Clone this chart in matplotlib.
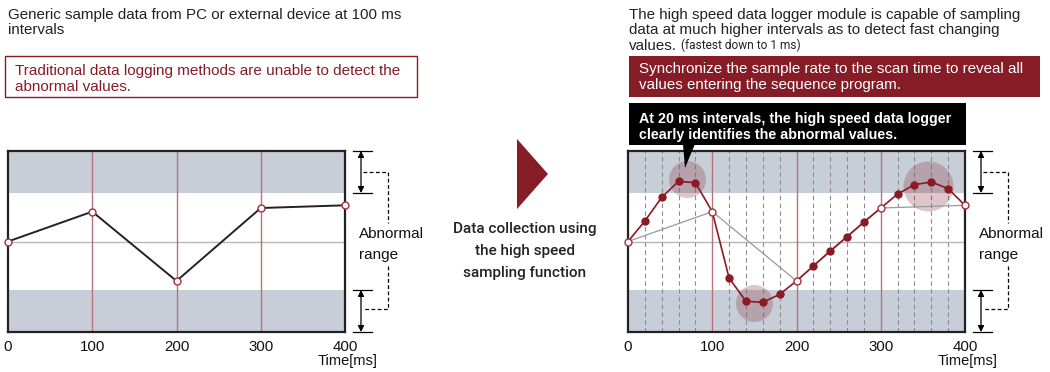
#Traditional 100 ms logging vs. high speed 20 ms logging
import numpy as np
import matplotlib.pyplot as plt
from matplotlib.patches import Rectangle, Polygon

plt.rcParams['font.family'] = ['Liberation Sans', 'DejaVu Sans']

# samples every 100 ms (traditional logging)
t_slow = [0, 100, 200, 300, 400]
v_slow = [50, 66.5, 28.2, 68.5, 70]

# samples every 20 ms (high speed data logger)
t_fast = [0, 20, 40, 60, 80, 100, 120, 140, 160, 180, 200,
          220, 240, 260, 280, 300, 320, 340, 360, 380, 400]
v_fast = [50, 61.3, 74.4, 83.2, 82.5, 66.5, 29.8, 17.0, 16.4, 20.8, 28.2,
          36.5, 44.8, 52.7, 60.8, 68.5, 76.2, 81.4, 82.9, 79.2, 70]

band_low = 23.3
band_high = 76.7
x_ticks = [0, 100, 200, 300, 400]

RED = '#861c26'
GRAY_BAND = '#c8ced8'
W, H = 1050, 372

fig = plt.figure(figsize=(W/100, H/100), dpi=100)


def chart_axes(left_px):
    ax = fig.add_axes([left_px/W, 1-332/H, 337/W, 181/H])
    ax.set_xlim(0, 400)
    ax.set_ylim(0, 100)
    ax.axhspan(0, band_low, color=GRAY_BAND, lw=0, zorder=0)
    ax.axhspan(band_high, 100, color=GRAY_BAND, lw=0, zorder=0)
    ax.axhline(50, color='#b8b8b8', lw=1, zorder=1)
    for x in x_ticks[1:-1]:
        ax.axvline(x, color='#b9717a', lw=1, zorder=2)
    ax.set_xticks(x_ticks)
    ax.set_xticklabels([str(x) for x in x_ticks], fontsize=10.8, color='#111')
    ax.tick_params(axis='x', length=0, pad=5.5)
    ax.set_yticks([])
    for s in ax.spines.values():
        s.set_linewidth(1.6)
        s.set_color('#222')
        s.set_zorder(6)
    return ax


# left chart
ax1 = chart_axes(8)
ax1.plot(t_slow, v_slow, color='#222', lw=1.4, zorder=3)
ax1.plot(t_slow, v_slow, 'o', ms=5, mfc='white', mec='#a03040', mew=1,
         clip_on=False, zorder=7)

# right chart
ax2 = chart_axes(628)
for t in t_fast:
    if t not in x_ticks:
        ax2.axvline(t, color='#8c8c8c', lw=0.8, ls=(0, (4, 3)), zorder=1)
ax2.scatter([70.5, 149.6], [84.4, 15.9], s=710, color='#8a3040', alpha=0.28,
            lw=0, zorder=1.5)
ax2.scatter([356], [80.7], s=1296, color='#8a3040', alpha=0.28, lw=0, zorder=1.5)
ax2.plot(t_slow, v_slow, color='#9a9a9a', lw=0.9, zorder=3)
ax2.plot(t_fast, v_fast, color='#8b1a22', lw=1.2, zorder=4)
fast_only = [i for i, t in enumerate(t_fast) if t not in t_slow]
ax2.plot([t_fast[i] for i in fast_only], [v_fast[i] for i in fast_only], 'o',
         ms=5, mfc='#8b1a22', mec='#8b1a22', zorder=5)
ax2.plot(t_slow, v_slow, 'o', ms=5, mfc='white', mec='#a03040', mew=1,
         clip_on=False, zorder=7)

# overlay in pixel coordinates for the annotations
ov = fig.add_axes([0, 0, 1, 1], facecolor='none')
ov.set_xlim(0, W)
ov.set_ylim(H, 0)
ov.axis('off')


def lines(x, y0, pitch, rows, **kw):
    for i, r in enumerate(rows):
        ov.text(x, y0 + i*pitch, r, va='center_baseline', **kw)


def bracket(right):
    ax_x = right + 16
    for y0, y1 in [(151, 193), (290, 332)]:
        ov.annotate('', xy=(ax_x, y0), xytext=(ax_x, y1),
                    arrowprops=dict(arrowstyle='<|-|>', color='black', lw=0.9,
                                    shrinkA=0, shrinkB=0, mutation_scale=9))
        for y in (y0, y1):
            ov.plot([right+8, right+27], [y, y], color='black', lw=0.9)
    d = dict(color='black', lw=0.9, ls=(0, (3, 2)))
    ov.plot([right+18, right+43, right+43], [172, 172, 223], **d)
    ov.plot([right+43, right+43, right+18], [266, 309, 309], **d)
    lines(right+14, 233, 20, ['Abnormal', 'range'], fontsize=11, color='#111')
    ov.text(right+32, 365, 'Time[ms]', fontsize=10.5, ha='right', va='baseline',
            color='#111')


bracket(345)
bracket(965)

# left header
lines(8, 13, 15.5, ['Generic sample data from PC or external device at 100 ms',
                    'intervals'], fontsize=10.9, color='#222')
ov.add_patch(Rectangle((5, 56), 412, 41, fc='white', ec=RED, lw=1))
lines(15, 70, 15.5, ['Traditional data logging methods are unable to detect the',
                     'abnormal values.'], fontsize=11, color=RED)

# right header
lines(629, 13, 15.5, ['The high speed data logger module is capable of sampling',
                      'data at much higher intervals as to detect fast changing',
                      'values.'], fontsize=10.9, color='#222')
ov.text(681, 44, '(fastest down to 1 ms)', fontsize=8.6, va='center_baseline',
        color='#222', family=['Roboto', 'DejaVu Sans'])
ov.add_patch(Rectangle((629, 56), 411, 41, fc=RED, ec='none'))
lines(639, 68, 16, ['Synchronize the sample rate to the scan time to reveal all',
                    'values entering the sequence program.'],
      fontsize=10.9, color='white')
ov.add_patch(Rectangle((629, 103), 337, 42, fc='black', ec='none'))
ov.add_patch(Polygon([(683, 144), (695, 144), (685, 168)], fc='black', ec='none'))
lines(639, 117, 16, ['At 20 ms intervals, the high speed data logger',
                     'clearly identifies the abnormal values.'],
      fontsize=10.3, color='white', fontweight='bold')

# middle arrow and caption
ov.add_patch(Polygon([(517, 139), (517, 209), (548, 174)], fc=RED, ec='none'))
for i, r in enumerate(['Data collection using', 'the high speed',
                       'sampling function']):
    ov.text(525, 228 + i*21.7, r, fontsize=11, ha='center', va='center_baseline',
            color='#222', family=['Roboto', 'DejaVu Sans'], fontweight='medium')

plt.savefig('out.png', dpi=100)
